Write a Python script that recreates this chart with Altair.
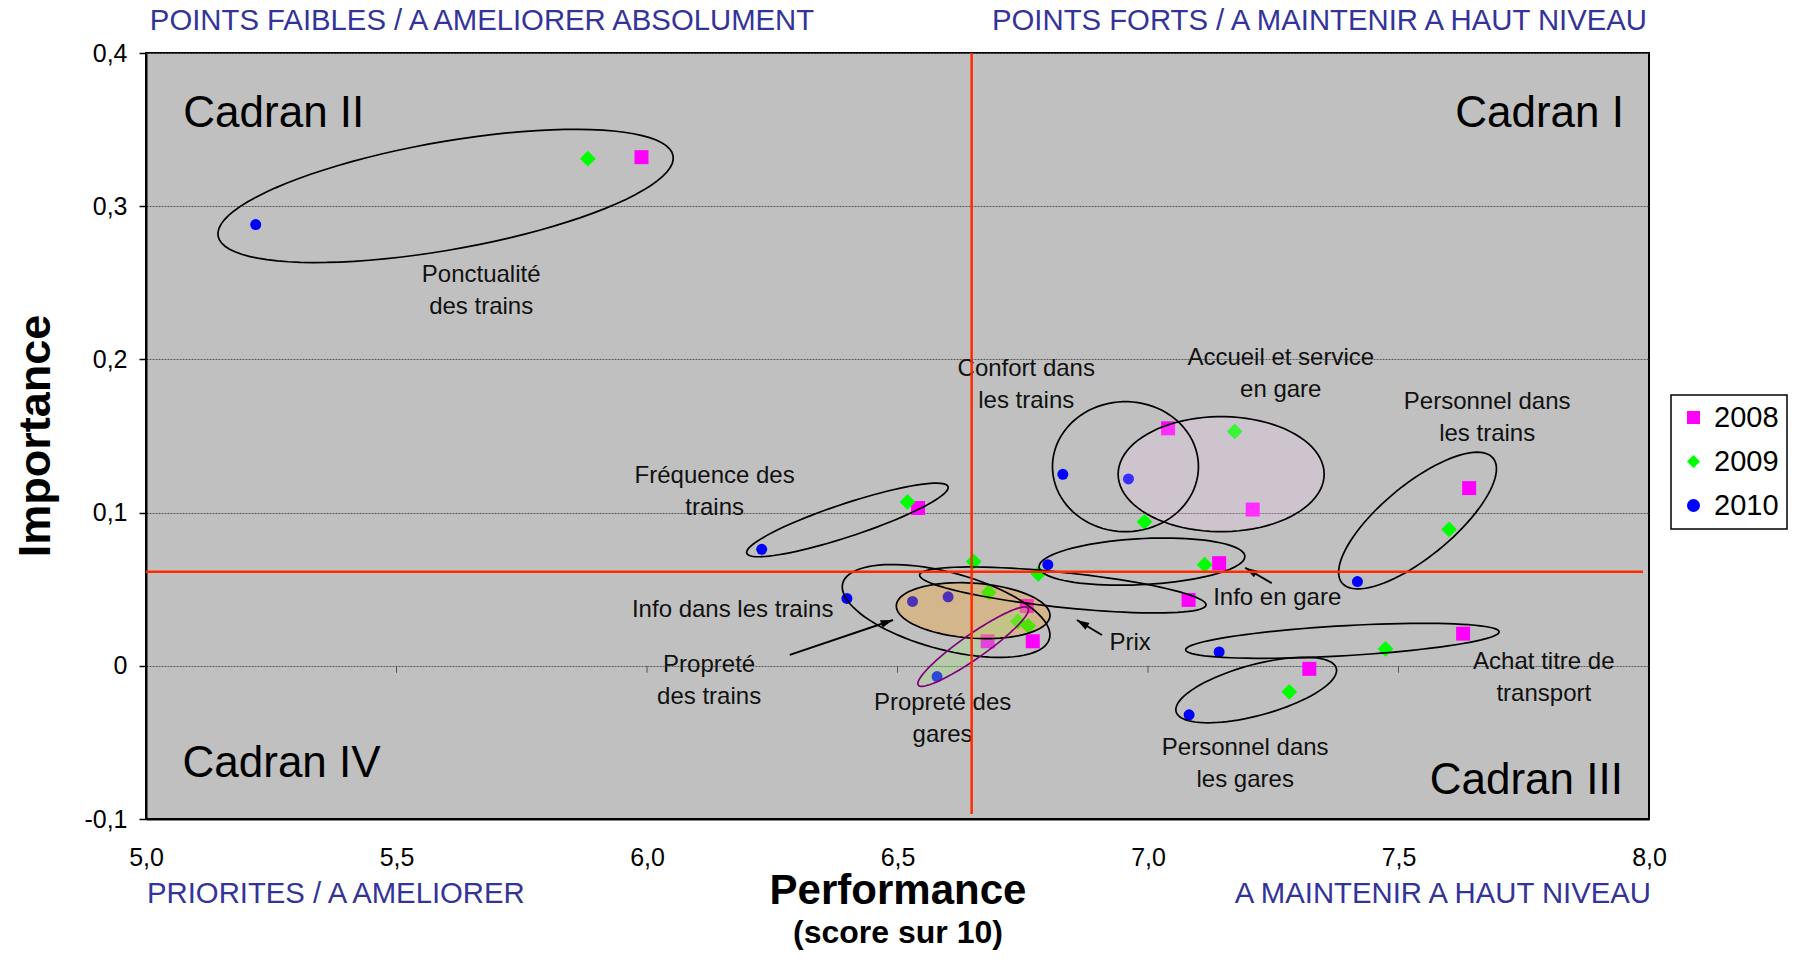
import math
import altair as alt
import pandas as pd

# ---------------- data ----------------
years = ["2008", "2009", "2010"]
year_colors = ["#FF00FF", "#00FF00", "#0000FF"]
year_shapes = ["square", "diamond", "circle"]

perf_2008 = [5.989, 6.541, 7.040, 7.209, 7.641, 7.142, 7.081, 6.758, 6.680, 6.770, 7.629, 7.322]
imp_2008 = [0.332, 0.103, 0.155, 0.102, 0.116, 0.067, 0.043, 0.039, 0.016, 0.016, 0.021, -0.002]
perf_2009 = [5.882, 6.520, 7.173, 6.993, 7.601, 7.113, 6.652, 6.781, 6.682, 6.740, 6.761, 7.474, 7.282]
imp_2009 = [0.331, 0.107, 0.153, 0.094, 0.089, 0.066, 0.068, 0.060, 0.048, 0.029, 0.026, 0.011, -0.017]
perf_2010 = [5.219, 6.229, 6.830, 6.961, 7.418, 6.800, 6.399, 6.530, 6.601, 6.579, 7.142, 7.082]
imp_2010 = [0.288, 0.076, 0.125, 0.122, 0.055, 0.066, 0.044, 0.042, 0.045, -0.007, 0.009, -0.032]

x_ticks = [5.0, 5.5, 6.0, 6.5, 7.0, 7.5, 8.0]
y_ticks = [-0.1, 0.0, 0.1, 0.2, 0.3, 0.4]

mean_perf = 6.648
mean_imp = 0.0614

# ellipses grouping the items (centre in data units, semi-axes in px, rotation in degrees)
ell_names = ["Ponctualité", "Fréquence", "Confort", "Accueil", "Personnel trains", "Info en gare",
             "Prix", "Info dans les trains", "Propreté trains", "Propreté gares", "Achat", "Personnel gares"]
ell_x = [5.598, 6.400, 6.955, 7.146, 7.538, 6.988, 6.830, 6.597, 6.651, 6.651, 7.388, 7.216]
ell_y = [0.3067, 0.0952, 0.1300, 0.1251, 0.0948, 0.0680, 0.0495, 0.0358, 0.0360, 0.0125, 0.0163, -0.0158]
ell_a = [231, 106, 73, 103, 98, 103, 144, 107, 77, 67, 157, 83]
ell_b = [54, 16.5, 65, 57.5, 36, 23, 17.5, 38.6, 27.5, 12, 15, 25.4]
ell_rot = [350, 341.7, 0, 0, 320.4, 357, 6, 15, 4, 325, 356.7, 344.8]
ell_edge = ["black"] * 9 + ["#800080", "black", "black"]
ell_fill = ["none", "none", "none", "#FFD2FF", "none", "none", "none", "none", "#FF9F14", "#9FE577", "none", "none"]
ell_fill_op = [0, 0, 0, 0.22, 0, 0, 0, 0, 0.3, 0.3, 0, 0]

# labels of items (position of the first line)
lab_text = ["Ponctualité\ndes trains", "Fréquence des\ntrains", "Confort dans\nles trains",
            "Accueil et service\nen gare", "Personnel dans\nles trains", "Info en gare", "Prix",
            "Info dans les trains", "Propreté\ndes trains", "Propreté des\ngares",
            "Achat titre de\ntransport", "Personnel dans\nles gares"]
lab_x = [5.669, 6.135, 6.757, 7.265, 7.677, 7.130, 6.923, 6.171, 6.124, 6.590, 7.790, 7.194]
lab_y = [0.2552, 0.1236, 0.1939, 0.2006, 0.1724, 0.0441, 0.0151, 0.0361, 0.0002, -0.0243, 0.0027, -0.0538]
lab_align = ["center", "center", "center", "center", "center", "left", "left",
             "center", "center", "center", "center", "center"]

# arrows (tail -> tip)
arr_x = [6.285, 7.247, 6.908]
arr_y = [0.0071, 0.0539, 0.0201]
arr_x2 = [6.491, 7.194, 6.858]
arr_y2 = [0.0299, 0.0640, 0.0299]

cadran_text = ["Cadran II", "Cadran I", "Cadran IV", "Cadran III"]
cadran_x = [5.0745, 7.950, 5.0729, 7.948]
cadran_y = [0.3519, 0.3519, -0.0726, -0.0840]
cadran_align = ["left", "right", "left", "right"]

# ---------------- layout ----------------
W, H = 1503, 766
FONT = "Liberation Sans"
XD, YD = [5, 8], [-0.1, 0.4]
px_per_x = W / (XD[1] - XD[0])
px_per_y = H / (YD[1] - YD[0])

sizes = {"2008": 196, "2009": 250, "2010": 121}

pts = pd.DataFrame({
    "x": perf_2008 + perf_2009 + perf_2010,
    "y": imp_2008 + imp_2009 + imp_2010,
    "year": ["2008"] * len(perf_2008) + ["2009"] * len(perf_2009) + ["2010"] * len(perf_2010),
})
pts["sz"] = pts["year"].map(sizes)


def ellipse_path(ratio, n=90):
    parts = []
    for i in range(n):
        t = 2 * math.pi * i / n
        parts.append(("M" if i == 0 else "L") + f"{math.cos(t):.4f},{ratio * math.sin(t):.4f}")
    return "".join(parts) + "Z"


ell = pd.DataFrame({
    "name": ell_names, "x": ell_x, "y": ell_y, "a": ell_a, "b": ell_b,
    "rot": ell_rot, "edge": ell_edge, "fill": ell_fill, "fop": ell_fill_op,
})
ell["path"] = [ellipse_path(b / a) for a, b in zip(ell["a"], ell["b"])]
ell["size"] = (2 * ell["a"]) ** 2
ell_filled = ell[ell["fop"] > 0].copy()

arr = pd.DataFrame({"x": arr_x, "y": arr_y, "x2": arr_x2, "y2": arr_y2})
arr["ang"] = [
    (math.degrees(math.atan2((x2 - x1) * px_per_x, (y2 - y1) * px_per_y)) + 360) % 360
    for x1, y1, x2, y2 in zip(arr_x, arr_y, arr_x2, arr_y2)
]

labels = pd.DataFrame({"t": lab_text, "x": lab_x, "y": lab_y, "al": lab_align})
cadrans = pd.DataFrame({"t": cadran_text, "x": cadran_x, "y": cadran_y, "al": cadran_align})

xs = alt.Scale(domain=XD, nice=False, zero=False)
ys = alt.Scale(domain=YD, nice=False, zero=False)

num_expr = ("datum.value == 0 ? '0' : "
            "replace(replace(format(datum.value, '.1f'), '.', ','), '\u2212', '-')")

x_axis = alt.Axis(values=x_ticks, labelExpr=num_expr, title=None, ticks=False, grid=False,
                  domainColor="black", domainWidth=2, labelFontSize=25, labelFont=FONT,
                  labelColor="black", labelPadding=26, labelFlush=False)
y_axis = alt.Axis(values=y_ticks, labelExpr=num_expr, title=None, tickSize=7, tickColor="black",
                  tickWidth=1.5, grid=True, gridColor="#5a5a5a", gridDash=[2, 1], gridWidth=1,
                  domainColor="black", domainWidth=2, labelFontSize=25, labelFont=FONT,
                  labelColor="black", labelPadding=12)


def X(field="x"):
    return alt.X(f"{field}:Q", scale=xs, axis=x_axis)


def Y(field="y"):
    return alt.Y(f"{field}:Q", scale=ys, axis=y_axis)


legend = alt.Legend(title=None, orient="none", legendX=1525, legendY=342, fillColor="white",
                    strokeColor="black", padding=8, rowPadding=14,
                    labelFontSize=29, labelFont=FONT, labelColor="black", symbolSize=170,
                    symbolStrokeWidth=0, labelOffset=6, symbolOpacity=1)

points = alt.Chart(pts).mark_point(filled=True, opacity=1, strokeWidth=0).encode(
    x=X(), y=Y(),
    color=alt.Color("year:N", scale=alt.Scale(domain=years, range=year_colors), legend=legend),
    shape=alt.Shape("year:N", scale=alt.Scale(domain=years, range=year_shapes), legend=legend),
    size=alt.Size("sz:Q", scale=None),
)

small_ticks = alt.Chart(pd.DataFrame({"x": x_ticks[1:-1], "y": [0.0] * 5})).mark_tick(
    orient="vertical", size=7, thickness=1, color="#555555", yOffset=3.5, opacity=1
).encode(x=X(), y=Y())

ell_fill_layer = alt.Chart(ell_filled).mark_point(filled=True, strokeWidth=0, opacity=1).encode(
    x=X(), y=Y(),
    shape=alt.Shape("path:N", scale=None),
    size=alt.Size("size:Q", scale=None),
    angle=alt.Angle("rot:Q", scale=None),
    fill=alt.Fill("fill:N", scale=None),
    fillOpacity=alt.FillOpacity("fop:Q", scale=None),
)

ell_edge_layer = alt.Chart(ell).mark_point(filled=False, strokeWidth=1.7, opacity=1).encode(
    x=X(), y=Y(),
    shape=alt.Shape("path:N", scale=None),
    size=alt.Size("size:Q", scale=None),
    angle=alt.Angle("rot:Q", scale=None),
    stroke=alt.Stroke("edge:N", scale=None),
)

arrow_lines = alt.Chart(arr).mark_rule(color="black", strokeWidth=2).encode(
    x=X(), y=Y(), x2="x2:Q", y2="y2:Q",
)
arrow_heads = alt.Chart(arr).mark_point(
    shape="M0,0L0.5,1.6L-0.5,1.6Z", filled=True, color="black", size=240, opacity=1, strokeWidth=0
).encode(x=X("x2"), y=Y("y2"), angle=alt.Angle("ang:Q", scale=None))

label_layers = [
    alt.Chart(labels[labels["al"] == a]).mark_text(
        font=FONT, fontSize=24, color="#111111", lineBreak="\n", lineHeight=32,
        baseline="middle", align=a
    ).encode(x=X(), y=Y(), text="t:N")
    for a in ["center", "left"]
]

cadran_layers = [
    alt.Chart(cadrans[cadrans["al"] == a]).mark_text(
        font=FONT, fontSize=44, color="black", align=a, baseline="alphabetic"
    ).encode(x=X(), y=Y(), text="t:N")
    for a in ["left", "right"]
]

red_lines = alt.Chart(pd.DataFrame({
    "x": [mean_perf, 5.0], "x2": [mean_perf, 7.988],
    "y": [0.4, mean_imp], "y2": [-0.0967, mean_imp],
})).mark_rule(color="#FF2A00", strokeWidth=2.5).encode(x=X(), y=Y(), x2="x2:Q", y2="y2:Q")


def outer_text(txt, x, y, size, color="black", weight="normal", align="center", angle=0):
    return alt.Chart(pd.DataFrame({"t": [txt]})).mark_text(
        font=FONT, fontSize=size, color=color, fontWeight=weight, align=align,
        baseline="alphabetic", angle=angle
    ).encode(text="t:N", x=alt.value(x), y=alt.value(y))


NAVY = "#333399"
outer = [
    outer_text("POINTS FAIBLES / A AMELIORER ABSOLUMENT", 336, -23, 29.3, NAVY),
    outer_text("POINTS FORTS / A MAINTENIR A HAUT NIVEAU", 1501, -23, 29.3, NAVY, align="right"),
    outer_text("PRIORITES / A AMELIORER", 1, 850, 29.3, NAVY, align="left"),
    outer_text("A MAINTENIR A HAUT NIVEAU", 1505, 850, 29.3, NAVY, align="right"),
    outer_text("Performance", 752, 851, 42, weight="bold"),
    outer_text("(score sur 10)", 752, 890, 32, weight="bold"),
    outer_text("Importance", -96, 383, 45, weight="bold", angle=270),
]

chart = alt.layer(
    points, small_ticks, ell_fill_layer, ell_edge_layer, arrow_lines, arrow_heads,
    *label_layers, *cadran_layers, red_lines, *outer
).properties(
    width=W, height=H,
    padding={"left": 138, "top": 45, "right": 139, "bottom": 132},
    autosize=alt.AutoSizeParams(type="none"),
).configure(font=FONT, background="white").configure_view(
    fill="#C0C0C0", stroke="black", strokeWidth=2
).configure_legend(strokeWidth=1.5)

chart.save("out.html", embed_options={"renderer": "svg", "actions": False})
